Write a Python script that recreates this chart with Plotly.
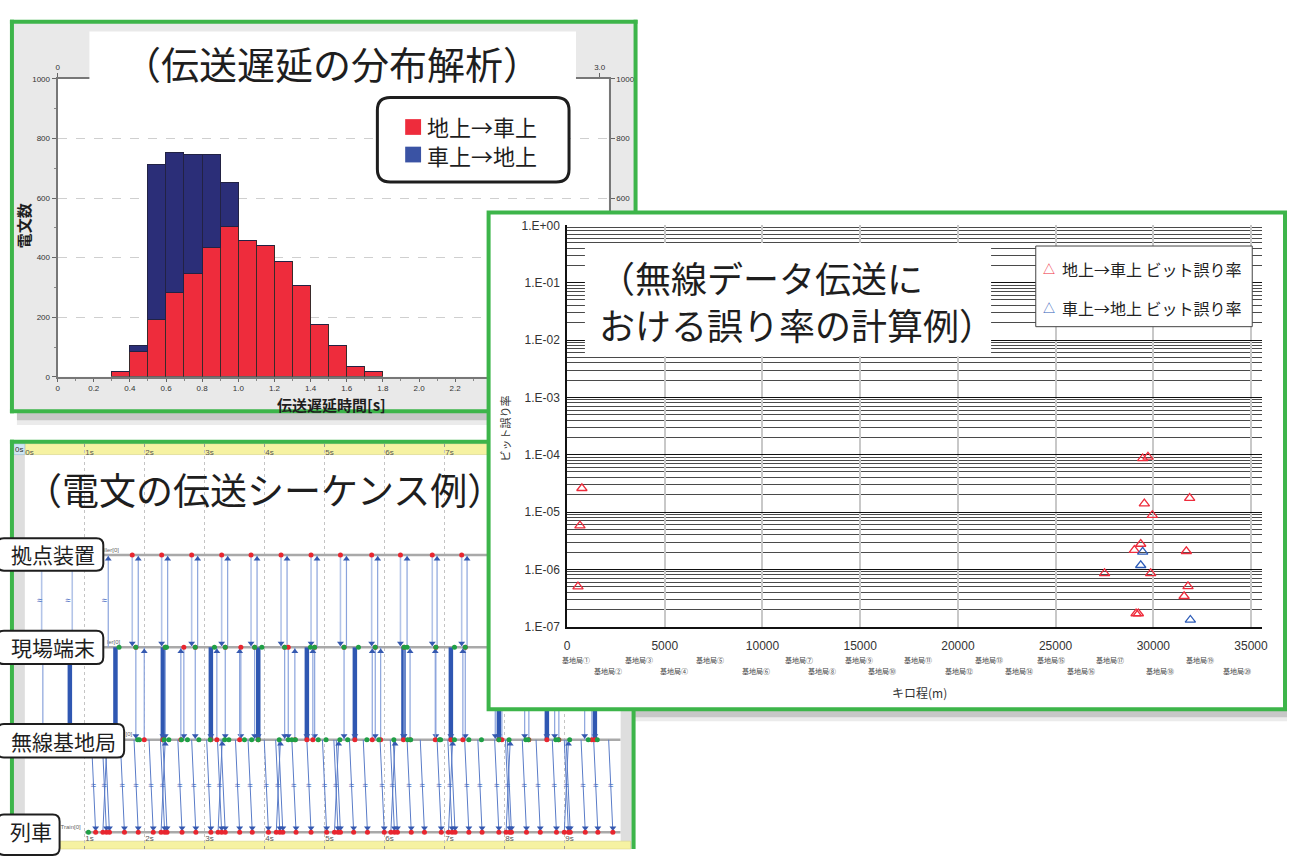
import plotly.graph_objects as go

W, H = 1293, 856
def fx(p): return p / W
def fy(p): return 1 - p / H

GREEN = "#3db54a"
RED = "#ee2c3c"
NAVY = "#2b2e78"
JP = "Noto Sans CJK JP"
NUM = "Liberation Sans"

# ---------------- histogram data ----------------
HIST_BIN_LEFT = [0.3, 0.4, 0.5, 0.6, 0.7, 0.8, 0.9, 1.0, 1.1, 1.2, 1.3, 1.4, 1.5, 1.6, 1.7]
HIST_G2T = [16, 85, 191, 281, 347, 432, 502, 455, 439, 386, 307, 175, 105, 35, 18]
HIST_T2G = [0, 18, 519, 471, 399, 314, 148, 0, 0, 0, 0, 0, 0, 0, 0]
HIST_SERIES = ["地上→車上", "車上→地上"]
HIST_XTICKS = [0.0, 0.2, 0.4, 0.6, 0.8, 1.0, 1.2, 1.4, 1.6, 1.8, 2.0, 2.2, 2.4, 2.6, 2.8, 3.0]
HIST_XTEXT = ["0", "0.2", "0.4", "0.6", "0.8", "1.0", "1.2", "1.4", "1.6", "1.8", "2.0", "2.2", "", "", "", ""]
HIST_TOP_XTICKS = [0.0, 3.0]
HIST_TOP_XTEXT = ["0", "3.0"]
HIST_YTICKS = [0, 200, 400, 600, 800, 1000]
HIST_RIGHT_YTICKS = [600, 800, 1000]

# ---------------- bit error rate data ----------------
BER_SERIES = ["地上→車上 ビット誤り率", "車上→地上 ビット誤り率"]
BER_G2T_KM = [760, 660, 560, 29456, 29726, 31860, 29540, 29947, 29355, 29030, 31690,
              27505, 29865, 31775, 31575, 29118, 29235]
BER_G2T = [2.6e-5, 5.8e-6, 5.0e-7, 8.6e-5, 9.2e-5, 1.75e-5, 1.4e-5, 8.8e-6, 2.77e-6, 2.16e-6,
           2.07e-6, 8.5e-7, 8.5e-7, 5.07e-7, 3.4e-7, 1.7e-7, 1.7e-7]
BER_T2G_KM = [29456, 29355, 31895]
BER_T2G = [2.02e-6, 1.18e-6, 1.31e-7]
BER_YTICKS = [1, 1e-1, 1e-2, 1e-3, 1e-4, 1e-5, 1e-6, 1e-7]
BER_YTEXT = ["1.E+00", "1.E-01", "1.E-02", "1.E-03", "1.E-04", "1.E-05", "1.E-06", "1.E-07"]
BER_XTICKS = [0, 5000, 10000, 15000, 20000, 25000, 30000, 35000]
BER_XTEXT = ["0", "5000", "10000", "15000", "20000", "25000", "30000", "35000"]
STATION_NAMES = ["基地局①", "基地局②", "基地局③", "基地局④", "基地局⑤", "基地局⑥", "基地局⑦",
                 "基地局⑧", "基地局⑨", "基地局⑩", "基地局⑪", "基地局⑫", "基地局⑬", "基地局⑭",
                 "基地局⑮", "基地局⑯", "基地局⑰", "基地局⑱", "基地局⑲", "基地局⑳"]
STATION_KM = [457, 2083, 3659, 5488, 7317, 9654, 11890, 13059, 14939, 16108, 17937, 20071,
              21596, 23120, 24746, 26321, 27795, 30335, 32368, 34299]

# ---------------- sequence data (seconds) ----------------
SEQ_LANES = ["拠点装置", "現場端末", "無線基地局", "列車"]
LANE_Y = [3, 2, 1, 0]
LANE_TAGS = ["roller[0]", "ler[0]", "[0]", "3.Train[0]"]
LANE_TAG_END = [1.57, 1.59, 1.79, 0.93]
LANE_START = 1.0
SEQ_SECONDS = [0, 1, 2, 3, 4, 5, 6, 7, 8, 9]
SEQ_SECTEXT = ["0s", "1s", "2s", "3s", "4s", "5s", "6s", "7s", "8s", "9s"]
SEQ_BOTTOM_TEXT = ["", "1s", "2s", "3s", "4s", "5s", "6s", "7s", "8s", "9s"]

CTRL_DOWN_T = [0.28, 0.79, 1.79, 2.28, 2.78, 3.28, 3.77, 4.27, 4.77, 5.26, 5.78, 6.26, 6.79, 7.28, 7.78]
CTRL_UP_T = [1.39, 1.89, 2.38, 2.88, 3.38, 3.87, 4.37, 4.87, 5.36, 5.88, 6.37, 6.87, 7.37, 7.87]
UPPER_BREAK_T = [0.25, 0.72, 1.33]
THICK_T = [0.75, 1.51, 2.30, 3.10, 3.89, 4.70, 5.50, 6.31, 7.10, 7.90, 8.70, 9.50]
FIELD_DOWN_T = [0.30, 1.85, 2.34, 2.65, 2.84, 3.34, 3.60, 3.83, 4.33, 4.39, 4.83, 5.32, 5.84,
                6.32, 6.85, 7.34, 7.84, 8.33, 8.83, 9.33]
RADIO_UP_T = [1.99, 2.60, 3.20, 3.58, 4.50, 4.80, 5.79, 5.93, 6.42, 6.84, 7.30, 7.95, 8.40, 8.90, 9.45]
RADIO_TX_T = [1.11, 1.29, 1.34, 1.59, 1.82, 2.07, 2.26, 2.30, 2.55, 2.78, 3.03, 3.21, 3.27, 3.51,
              3.72, 3.99, 4.18, 4.23, 4.45, 4.70, 4.96, 5.15, 5.19, 5.41, 5.64, 5.92, 6.09, 6.14,
              6.37, 6.59, 6.87, 7.05, 7.10, 7.33, 7.55, 7.83, 8.01, 8.04, 8.29, 8.52, 8.79, 8.99,
              9.02, 9.27, 9.48, 9.73]
TRAIN_RX_T = [1.18, 1.36, 1.41, 1.66, 1.89, 2.14, 2.33, 2.37, 2.62, 2.85, 3.10, 3.28, 3.34, 3.58,
              3.79, 4.06, 4.25, 4.30, 4.52, 4.77, 5.03, 5.22, 5.26, 5.48, 5.71, 5.99, 6.16, 6.21,
              6.44, 6.66, 6.94, 7.12, 7.17, 7.40, 7.62, 7.90, 8.08, 8.11, 8.36, 8.59, 8.86, 9.06,
              9.09, 9.34, 9.55, 9.80]
TRAIN_UP_T = [1.30, 2.27, 3.22, 4.19, 5.16, 6.10, 7.06, 8.02, 8.99]
TRAIN_UP_RX_T = [1.37, 2.34, 3.29, 4.26, 5.23, 6.17, 7.13, 8.09, 9.06]

fig = go.Figure()

# ================= histogram (x2/y2) =================
fig.add_trace(go.Bar(x=[b + 0.05 for b in HIST_BIN_LEFT], y=HIST_G2T, width=0.1, name=HIST_SERIES[0],
                     marker=dict(color=RED, line=dict(color="#3a2a2a", width=1)),
                     xaxis="x2", yaxis="y2", showlegend=False))
fig.add_trace(go.Bar(x=[b + 0.05 for b in HIST_BIN_LEFT], y=HIST_T2G, width=0.1, name=HIST_SERIES[1],
                     marker=dict(color=NAVY, line=dict(color="#222244", width=1)),
                     xaxis="x2", yaxis="y2", showlegend=False))
fig.add_trace(go.Scatter(x=[None], y=[None], xaxis="x3", yaxis="y3", showlegend=False, hoverinfo="skip"))

# ================= sequence (x4/y4) =================
def segs(x0, y0, x1, y1):
    xs, ys = [], []
    for a, b, c, d in zip(x0, y0, x1, y1):
        xs += [a, c, None]
        ys += [b, d, None]
    return xs, ys

SX, SY = "x4", "y4"
END_T = 9.93
xs, ys = segs([LANE_START] * 4, LANE_Y, [END_T] * 4, LANE_Y)
fig.add_trace(go.Scatter(x=xs, y=ys, mode="lines", line=dict(color="#a9a9a9", width=2.5),
                         xaxis=SX, yaxis=SY, showlegend=False, hoverinfo="skip"))
fig.add_trace(go.Scatter(x=LANE_TAG_END, y=[v + 0.02 for v in LANE_Y], mode="text", text=LANE_TAGS,
                         textposition="top left", textfont=dict(size=6, color="#666", family=NUM),
                         xaxis=SX, yaxis=SY, showlegend=False, hoverinfo="skip"))

def msg(t0, y0, t1, y1, color, width, head, head_y):
    xs, ys = segs(t0, [y0] * len(t0), t1, [y1] * len(t1))
    fig.add_trace(go.Scatter(x=xs, y=ys, mode="lines", line=dict(color=color, width=width),
                             xaxis=SX, yaxis=SY, showlegend=False, hoverinfo="skip"))
    fig.add_trace(go.Scatter(x=t1, y=[head_y] * len(t1), mode="markers",
                             marker=dict(symbol=head, size=6, color="#3559b0"),
                             xaxis=SX, yaxis=SY, showlegend=False, hoverinfo="skip"))

msg(CTRL_DOWN_T, 3, CTRL_DOWN_T, 2, "#b3c4e8", 1.6, "triangle-down", 2.045)
msg(CTRL_UP_T, 2, CTRL_UP_T, 3, "#8aa3dc", 1.2, "triangle-up", 2.955)
msg(THICK_T, 2, THICK_T, 1, "#2f57b2", 4.5, "triangle-down", 1.045)
msg(FIELD_DOWN_T, 2, FIELD_DOWN_T, 1, "#8aa3dc", 1.2, "triangle-down", 1.045)
msg(RADIO_UP_T, 1, RADIO_UP_T, 2, "#8aa3dc", 1.2, "triangle-up", 1.955)
msg(RADIO_TX_T, 1, TRAIN_RX_T, 0, "#5a7cc8", 1.0, "triangle-down", 0.045)
msg(TRAIN_UP_T, 0, TRAIN_UP_RX_T, 1, "#5a7cc8", 1.0, "triangle-up", 0.955)

# wavy break marks at line midpoints (marks closer than 0.12 s merge into one)
mids = sorted([(a + b) / 2 for a, b in zip(RADIO_TX_T, TRAIN_RX_T)] +
              [(a + b) / 2 for a, b in zip(TRAIN_UP_T, TRAIN_UP_RX_T)])
low_marks = []
for m in mids:
    if not low_marks or m - low_marks[-1] > 0.12:
        low_marks.append(m)
brk_x = low_marks + UPPER_BREAK_T
brk_y = [0.5] * len(low_marks) + [2.5] * len(UPPER_BREAK_T)
fig.add_trace(go.Scatter(x=brk_x, y=brk_y, mode="text", text=["≈"] * len(brk_x),
                         textfont=dict(size=10, color="#4f72c4"), xaxis=SX, yaxis=SY,
                         showlegend=False, hoverinfo="skip"))
red_x = CTRL_DOWN_T[2:] + FIELD_DOWN_T + THICK_T + RADIO_UP_T + TRAIN_RX_T + TRAIN_UP_T
red_y = [3] * len(CTRL_DOWN_T[2:]) + [2] * len(FIELD_DOWN_T) + [1] * len(THICK_T) + \
        [1] * len(RADIO_UP_T) + [0] * len(TRAIN_RX_T) + [0] * len(TRAIN_UP_T)
fig.add_trace(go.Scatter(x=red_x, y=red_y, mode="markers", marker=dict(size=5, color="#e8262f"),
                         xaxis=SX, yaxis=SY, showlegend=False, hoverinfo="skip"))
grn_x = THICK_T + CTRL_DOWN_T[2:] + RADIO_TX_T[::2] + FIELD_DOWN_T + [LANE_START]
grn_y = [2] * len(THICK_T) + [2] * len(CTRL_DOWN_T[2:]) + [1] * len(RADIO_TX_T[::2]) + \
        [1] * len(FIELD_DOWN_T) + [0]
fig.add_trace(go.Scatter(x=[g + 0.06 for g in grn_x], y=grn_y, mode="markers",
                         marker=dict(size=5, color="#1f9f45"),
                         xaxis=SX, yaxis=SY, showlegend=False, hoverinfo="skip"))
fig.add_trace(go.Scatter(x=[None], y=[None], xaxis="x5", yaxis=SY, showlegend=False, hoverinfo="skip"))

# ================= cover (x6/y6) =================
fig.add_trace(go.Scatter(x=[None], y=[None], xaxis="x6", yaxis="y6", showlegend=False, hoverinfo="skip"))

# ================= BER scatter (x7/y7) =================
fig.add_trace(go.Scatter(x=BER_G2T_KM, y=BER_G2T, mode="markers", name=BER_SERIES[0],
                         marker=dict(symbol="triangle-up-open", size=9, color="#ee2c3c", line=dict(width=1.3)),
                         xaxis="x7", yaxis="y7", showlegend=False))
fig.add_trace(go.Scatter(x=BER_T2G_KM, y=BER_T2G, mode="markers", name=BER_SERIES[1],
                         marker=dict(symbol="triangle-up-open", size=9, color="#2f5db8", line=dict(width=1.3)),
                         xaxis="x7", yaxis="y7", showlegend=False))

tickfont_small = dict(size=8, color="#333", family=NUM)
layout = dict(
    width=W, height=H, margin=dict(l=0, r=0, t=0, b=0),
    paper_bgcolor="white", plot_bgcolor="white", barmode="stack", bargap=0,
    showlegend=False,
    xaxis2=dict(domain=[fx(55), fx(610)], range=[0, 3.05], anchor="y2", tickvals=HIST_XTICKS,
                ticktext=HIST_XTEXT, tickfont=tickfont_small, ticks="outside", ticklen=3,
                tickcolor="#666", showline=True, linecolor="#777", linewidth=2, showgrid=False,
                zeroline=False, minor=dict(dtick=0.1, ticks="outside", ticklen=2, tickcolor="#888")),
    yaxis2=dict(domain=[fy(376), fy(73)], range=[0, 1000], anchor="x2", tickvals=HIST_YTICKS,
                tickfont=tickfont_small, ticks="outside", ticklen=4, tickcolor="#666",
                showline=True, linecolor="#777", linewidth=2, showgrid=True, gridcolor="#cfcfcf",
                griddash="dash", gridwidth=1, zeroline=False,
                minor=dict(dtick=100, ticks="outside", ticklen=2, tickcolor="#888")),
    xaxis3=dict(overlaying="x2", side="top", anchor="y2", range=[0, 3.05], tickvals=HIST_TOP_XTICKS,
                ticktext=HIST_TOP_XTEXT, tickfont=tickfont_small, ticks="outside", ticklen=4,
                tickcolor="#666", showline=True, linecolor="#777", linewidth=2, showgrid=False,
                zeroline=False),
    yaxis3=dict(overlaying="y2", side="right", anchor="x2", range=[0, 1000], tickvals=HIST_RIGHT_YTICKS,
                tickfont=tickfont_small, ticks="outside", ticklen=4, tickcolor="#666",
                showline=True, linecolor="#777", linewidth=2, showgrid=False, zeroline=False),
    xaxis4=dict(domain=[fx(22), fx(622)], range=[0, END_T], anchor="y4", side="top",
                tickvals=SEQ_SECONDS, ticktext=SEQ_SECTEXT, ticklabelposition="inside right",
                tickfont=dict(size=8, color="#555", family=NUM), ticks="inside", ticklen=3,
                tickcolor="#999", showgrid=True, gridcolor="#c4c4c4", griddash="dot", gridwidth=1,
                showline=False, zeroline=False),
    xaxis5=dict(overlaying="x4", side="bottom", anchor="y4", range=[0, END_T],
                tickvals=SEQ_SECONDS, ticktext=SEQ_BOTTOM_TEXT, ticklabelposition="inside right",
                tickfont=dict(size=8, color="#555", family=NUM), ticks="inside", ticklen=3,
                tickcolor="#999", showgrid=False, showline=False, zeroline=False),
    yaxis4=dict(domain=[fy(856), fy(444)], range=[-0.181, 4.202], anchor="x4", visible=False),
    xaxis6=dict(domain=[fx(489), fx(1291)], range=[0, 1], anchor="y6", visible=False),
    yaxis6=dict(domain=[fy(714), fy(209)], range=[0, 1], anchor="x6", visible=False),
    xaxis7=dict(domain=[fx(568), fx(1268)], range=[0, 35570], anchor="y7", tickvals=BER_XTICKS,
                ticktext=BER_XTEXT, ticklabelstandoff=7,
                tickfont=dict(size=12, color="#333", family=NUM), ticks="", showline=True,
                linecolor="#111", linewidth=1.5, showgrid=True, gridcolor="#c8c8c8", gridwidth=1.5,
                zeroline=False),
    yaxis7=dict(domain=[fy(630), fy(222)], type="log", range=[-7, 0], anchor="x7",
                tickvals=BER_YTICKS, ticktext=BER_YTEXT, ticklabelstandoff=3,
                tickfont=dict(size=12, color="#333", family=NUM), ticks="", showline=True,
                linecolor="#111", linewidth=1.5, showgrid=True, gridcolor="#111", gridwidth=1.3,
                zeroline=False,
                minor=dict(dtick="D1", showgrid=True, gridcolor="#4a4a4a", gridwidth=1.2, ticks="")),
)
fig.update_layout(**layout)

def rect(x0, y0, x1, y1, fill=None, line=None, lw=0, layer="below"):
    return dict(type="rect", xref="paper", yref="paper", x0=fx(x0), x1=fx(x1), y0=fy(y1), y1=fy(y0),
                fillcolor=fill or "rgba(0,0,0,0)", line=dict(color=line or "rgba(0,0,0,0)", width=lw),
                layer=layer)

def rrect(x0, y0, x1, y1, r, lw, layer="above"):
    X, Y = fx, fy
    p = (f"M {X(x0 + r)},{Y(y0)} L {X(x1 - r)},{Y(y0)} Q {X(x1)},{Y(y0)} {X(x1)},{Y(y0 + r)} "
         f"L {X(x1)},{Y(y1 - r)} Q {X(x1)},{Y(y1)} {X(x1 - r)},{Y(y1)} L {X(x0 + r)},{Y(y1)} "
         f"Q {X(x0)},{Y(y1)} {X(x0)},{Y(y1 - r)} L {X(x0)},{Y(y0 + r)} Q {X(x0)},{Y(y0)} {X(x0 + r)},{Y(y0)} Z")
    return dict(type="path", xref="paper", yref="paper", path=p, fillcolor="white",
                line=dict(color="#1e1e1e", width=lw), layer=layer)

def hline(x0, x1, y, color, w, layer="above"):
    return dict(type="line", xref="paper", yref="paper", x0=fx(x0), x1=fx(x1), y0=fy(y), y1=fy(y),
                line=dict(color=color, width=w), layer=layer)

def vline(x, y0, y1, color, w, layer="above"):
    return dict(type="line", xref="paper", yref="paper", x0=fx(x), x1=fx(x), y0=fy(y0), y1=fy(y1),
                line=dict(color=color, width=w), layer=layer)

shapes = [
    rect(14, 412, 489, 420, fill="rgba(0,0,0,0.22)"),
    rect(14, 420, 489, 425, fill="rgba(0,0,0,0.08)"),
    rect(495, 715, 1293, 722, fill="rgba(0,0,0,0.22)"),
    rect(495, 722, 1293, 726, fill="rgba(0,0,0,0.08)"),
    rect(9, 15, 636, 411, fill="#e9e9e9"),
    rect(55, 73, 610, 376, fill="white"),
    rect(10, 443, 636, 856, fill="#dedede"),
    rect(22, 455, 622, 848, fill="white"),
    rect(22, 444, 632, 455, fill="#f6f2a2", line="#d8d27a", lw=0.5),
    rect(22, 848, 632, 856, fill="#f6f2a2", line="#d8d27a", lw=0.5),
    rect(11, 444, 22, 455, fill="#cfe6f2", line="#8fb8d0", lw=0.5),
    rect(87, 25, 577, 95, fill="white", layer="above"),
    rrect(377, 92, 570, 178, 13, 3),
    rect(405, 114, 421, 130, fill=RED, layer="above"),
    rect(405, 142, 421, 158, fill="#3a53a4", layer="above"),
    hline(7, 639, 15, GREEN, 4), vline(9, 13, 413, GREEN, 4), hline(7, 489, 411, GREEN, 4),
    vline(637, 13, 209, GREEN, 4),
    hline(7, 489, 442, GREEN, 4), vline(9, 440, 856, GREEN, 4), vline(635, 714, 856, GREEN, 4),
    rrect(-6, 540, 101, 573, 7, 2), rrect(-6, 634, 101, 668, 7, 2),
    rrect(-6, 729, 122, 763, 7, 2), rrect(-6, 821, 57, 862, 7, 2),
    rect(489, 209, 1291, 714, line=GREEN, lw=4, layer="above"),
    rect(586, 240, 995, 355, fill="white", layer="above"),
    rect(1040, 243, 1258, 325, fill="white", line="#444", lw=1, layer="above"),
]
fig.update_layout(shapes=shapes)

ann = []
def text(x, y, s, size, color="#1e1e1e", family=JP, xanchor="center", angle=0, xref="paper"):
    ann.append(dict(x=x if xref != "paper" else fx(x), y=fy(y), xref=xref, yref="paper", text=s,
                    showarrow=False, xanchor=xanchor, yanchor="middle", textangle=angle,
                    font=dict(size=size, color=color, family=family)))

text(331, 56, "（伝送遅延の分布解析）", 38)
ann.append(dict(x=fx(425), y=fy(136), xref="paper", yref="paper",
                text="<br>".join(HIST_SERIES), showarrow=False, xanchor="left", yanchor="middle",
                align="left", font=dict(size=22, color="#1e1e1e", family=JP)))
text(21, 222, "<b>電文数</b>", 15, angle=-90)
text(331, 404, "<b>伝送遅延時間[s]</b>", 15)
text(16, 450, "0s", 8, color="#333", family=NUM)
text(263, 490, "（電文の伝送シーケンス例）", 37)
for name, cy, x0, x1 in zip(SEQ_LANES, [556, 651, 746, 838], [-6, -6, -6, -6], [101, 101, 122, 57]):
    text((x0 + x1) / 2 + 3, cy, name, 21)
ann.append(dict(x=fx(598), y=fy(298), xref="paper", yref="paper",
                text="（無線データ伝送に<br>おける誤り率の計算例）", showarrow=False, xanchor="left",
                yanchor="middle", align="left", font=dict(size=36, color="#1e1e1e", family=JP)))
text(1053, 266, "△", 12, color="#ee2c3c")
text(1053, 306, "△", 12, color="#2f5db8")
text(1064, 266, BER_SERIES[0], 16, xanchor="left", color="#222")
text(1064, 306, BER_SERIES[1], 16, xanchor="left", color="#222")
text(506, 428, "ビット誤り率", 11, angle=-90, color="#333")
text(923, 697, "キロ程(m)", 12, color="#333")
for i, (nm, km) in enumerate(zip(STATION_NAMES, STATION_KM)):
    text(km, 664 if i % 2 == 0 else 675, nm, 7, color="#444", xref="x7")
fig.update_layout(annotations=ann)

fig.write_html("out.html", post_script="document.body.style.margin='0px';",
               config={"displayModeBar": False})
